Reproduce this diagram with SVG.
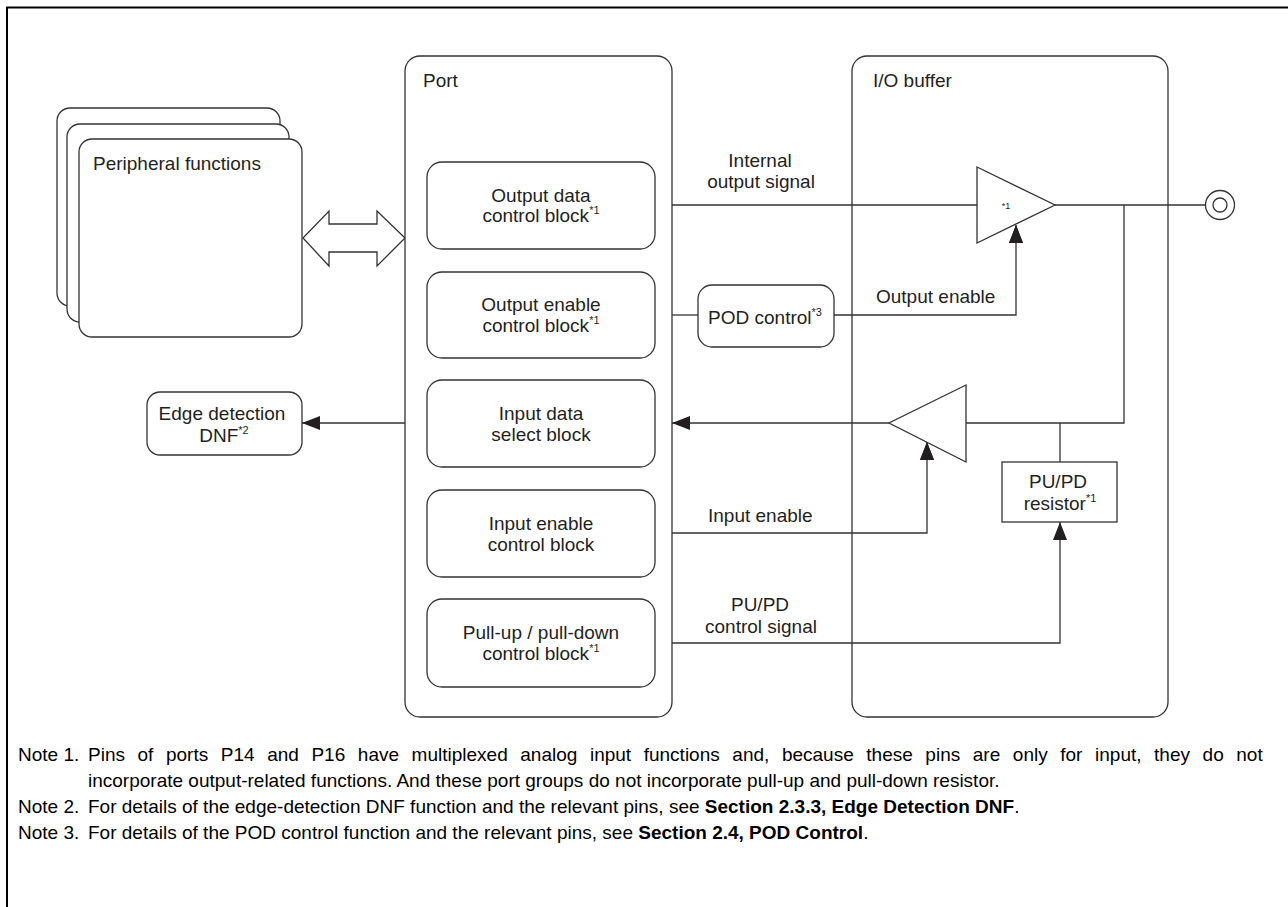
<svg xmlns="http://www.w3.org/2000/svg" width="1288" height="907" viewBox="0 0 1288 907">
  <style>
    .box { fill: #ffffff; stroke: #333333; stroke-width: 1.3; }
    .wire { fill: none; stroke: #333333; stroke-width: 1.3; }
    .t { font-family: "Liberation Sans", Arial, sans-serif; font-size: 19px; fill: #231f20; }
    .c { text-anchor: middle; }
    .sup { font-size: 11px; }
    .note { font-family: "Liberation Sans", Arial, sans-serif; font-size: 19px; fill: #000000; }
    .b { font-weight: bold; }
  </style>
  <defs>
    <marker id="arr" markerUnits="userSpaceOnUse" markerWidth="19" markerHeight="16" refX="18" refY="7" orient="auto">
      <path d="M0,0 L18,7 L0,14 Z" fill="#231f20"/>
    </marker>
  </defs>

  <rect width="1288" height="907" fill="#ffffff"/>
  <!-- figure frame (top and left rules only) -->
  <path d="M7,907 V7.5 H1288" fill="none" stroke="#000000" stroke-width="2"/>

  <!-- stacked peripheral function blocks -->
  <g id="peripheral-functions">
    <rect class="box" x="57" y="108" width="223" height="198" rx="13"/>
    <rect class="box" x="67" y="124" width="222" height="198" rx="13"/>
    <rect class="box" x="79" y="139" width="223" height="198" rx="13"/>
    <text class="t" x="93" y="170">Peripheral functions</text>
  </g>

  <!-- bidirectional bus arrow -->
  <g id="bus-arrow">
    <polygon class="box" points="303,238 329,211 329,224 377,224 377,211 405,238 377,266 377,252 329,252 329,266"/>
  </g>

  <!-- Port container -->
  <g id="port">
    <rect class="box" x="405" y="56" width="267" height="661" rx="15"/>
    <text class="t" x="423" y="87">Port</text>
  </g>

  <g id="output-data-control">
    <rect class="box" x="427" y="162" width="228" height="87" rx="15"/>
    <text class="t c" x="541" y="202">Output data</text>
    <text class="t c" x="541" y="222">control block<tspan class="sup" dy="-8">*1</tspan></text>
  </g>

  <g id="output-enable-control">
    <rect class="box" x="427" y="272" width="228" height="86" rx="15"/>
    <text class="t c" x="541" y="311">Output enable</text>
    <text class="t c" x="541" y="332">control block<tspan class="sup" dy="-8">*1</tspan></text>
  </g>

  <g id="input-data-select">
    <rect class="box" x="427" y="380" width="228" height="87" rx="15"/>
    <text class="t c" x="541" y="420">Input data</text>
    <text class="t c" x="541" y="441">select block</text>
  </g>

  <g id="input-enable-control">
    <rect class="box" x="427" y="490" width="228" height="87" rx="15"/>
    <text class="t c" x="541" y="530">Input enable</text>
    <text class="t c" x="541" y="551">control block</text>
  </g>

  <g id="pull-control">
    <rect class="box" x="427" y="599" width="228" height="88" rx="15"/>
    <text class="t c" x="541" y="639">Pull-up / pull-down</text>
    <text class="t c" x="541" y="660">control block<tspan class="sup" dy="-8">*1</tspan></text>
  </g>

  <!-- I/O buffer container -->
  <g id="io-buffer">
    <rect class="box" x="852" y="56" width="316" height="661" rx="15"/>
    <text class="t" x="873" y="87">I/O buffer</text>
  </g>

  <g id="pod-control">
    <rect class="box" x="698" y="285" width="136" height="62" rx="14"/>
    <text class="t c" x="765" y="324">POD control<tspan class="sup" dy="-8">*3</tspan></text>
  </g>

  <g id="edge-detection-dnf">
    <rect class="box" x="147" y="392" width="155" height="63" rx="13"/>
    <text class="t c" x="222" y="420">Edge detection</text>
    <text class="t c" x="224" y="442">DNF<tspan class="sup" dy="-8">*2</tspan></text>
  </g>

  <g id="pupd-resistor">
    <rect class="box" x="1002" y="462" width="115" height="60"/>
    <text class="t c" x="1058" y="488">PU/PD</text>
    <text class="t c" x="1060" y="510">resistor<tspan class="sup" dy="-8">*1</tspan></text>
  </g>

  <g id="pin">
    <circle class="box" cx="1220" cy="205" r="14.5"/>
    <circle class="box" cx="1220" cy="205" r="7"/>
  </g>

  <!-- signal connectors -->
  <g id="connectors">
    <!-- internal output signal into output buffer -->
    <path class="wire" d="M672,205 H977"/>
    <text class="t c" x="760" y="167">Internal</text>
    <text class="t c" x="761" y="188">output signal</text>
    <!-- port to POD control -->
    <path class="wire" d="M672,315 H698"/>
    <!-- output enable to buffer control input -->
    <path class="wire" d="M834,315 H1016 V225" marker-end="url(#arr)"/>
    <text class="t" x="876" y="303">Output enable</text>
    <!-- buffer output to pin -->
    <path class="wire" d="M1055,205 H1205.5"/>
    <path class="wire" d="M1124,205 V423 H966"/>
    <!-- input buffer to port -->
    <path class="wire" d="M889,423 H672" marker-end="url(#arr)"/>
    <!-- port to edge detection -->
    <path class="wire" d="M405,423 H302" marker-end="url(#arr)"/>
    <!-- pull resistor tap -->
    <path class="wire" d="M1060,423 V462"/>
    <!-- input enable -->
    <path class="wire" d="M672,533 H927 V442" marker-end="url(#arr)"/>
    <text class="t" x="708" y="522">Input enable</text>
    <!-- pull-up/pull-down control -->
    <path class="wire" d="M672,643 H1060 V522" marker-end="url(#arr)"/>
    <text class="t c" x="760" y="611">PU/PD</text>
    <text class="t c" x="761" y="633">control signal</text>
  </g>

  <!-- output buffer (tri-state) -->
  <g id="output-buffer">
    <polygon class="box" points="977,167 1055,205 977,243"/>
    <text class="t c" x="1006" y="209" style="font-size:9px">*1</text>
  </g>

  <!-- input buffer -->
  <g id="input-buffer">
    <polygon class="box" points="966,385 889,423 966,462"/>
  </g>

  <!-- arrow tips drawn over the buffer outlines -->
  <g id="arrow-tips">
    <path d="M1009,243 L1016,225 L1023,243 Z" fill="#231f20"/>
    <path d="M920,460 L927,442 L934,460 Z" fill="#231f20"/>
  </g>

  <!-- footnotes -->
  <g id="notes">
    <text class="note" x="18" y="761">Note 1.</text>
    <text class="note" x="88" y="761" style="word-spacing:7.3px">Pins of ports P14 and P16 have multiplexed analog input functions and, because these pins are only for input, they do not</text>
    <text class="note" x="88" y="787">incorporate output-related functions. And these port groups do not incorporate pull-up and pull-down resistor.</text>
    <text class="note" x="18" y="813">Note 2.</text>
    <text class="note" x="88" y="813">For details of the edge-detection DNF function and the relevant pins, see <tspan class="b">Section 2.3.3, Edge Detection DNF</tspan>.</text>
    <text class="note" x="18" y="839">Note 3.</text>
    <text class="note" x="88" y="839">For details of the POD control function and the relevant pins, see <tspan class="b">Section 2.4, POD Control</tspan>.</text>
  </g>
</svg>
